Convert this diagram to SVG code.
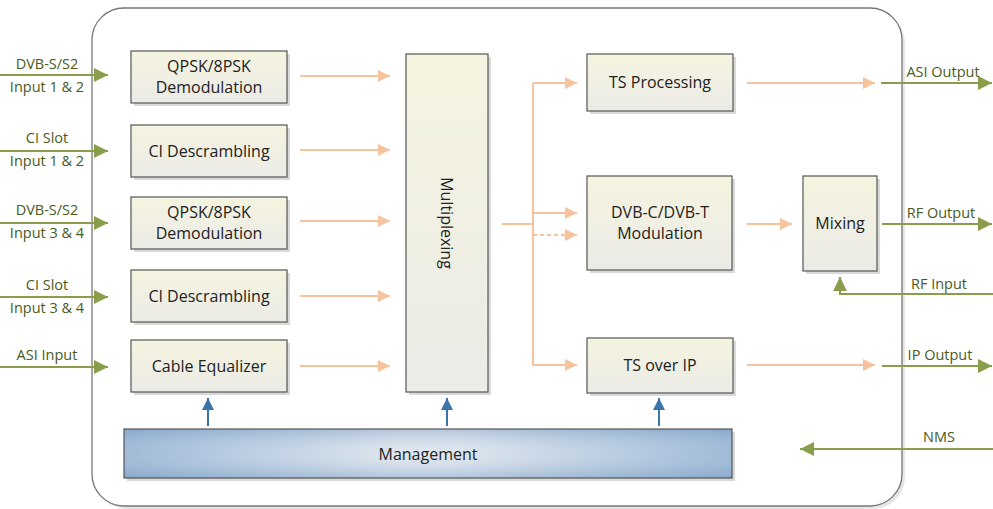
<svg xmlns="http://www.w3.org/2000/svg" width="993" height="509" viewBox="0 0 993 509">
<style>
.box{fill:url(#bg);stroke:#555;stroke-width:1.2}
.sh{fill:#d9d9d9}
.t{font-family:"Open Sans","DejaVu Sans",sans-serif;font-size:16px;fill:#222;text-anchor:middle}
.g{font-family:"Open Sans","DejaVu Sans",sans-serif;font-size:14.5px;fill:#4a5a22;text-anchor:middle}
.or{stroke:#f6c39e;stroke-width:2;fill:none}
.gr{stroke:#8a9d4a;stroke-width:2.2;fill:none}
.bl{stroke:#3b74a8;stroke-width:2;fill:none}
</style>
<defs>
<linearGradient id="bg" x1="0" y1="0" x2="0" y2="1"><stop offset="0" stop-color="#f5f4df"/><stop offset="1" stop-color="#ebebe7"/></linearGradient>
<linearGradient id="mg" x1="0" y1="0" x2="1" y2="0"><stop offset="0" stop-color="#8eaed0"/><stop offset="0.45" stop-color="#d9e2eb"/><stop offset="0.55" stop-color="#d9e2eb"/><stop offset="1" stop-color="#8eaed0"/></linearGradient>
<linearGradient id="mv" x1="0" y1="0" x2="0" y2="1"><stop offset="0" stop-color="#7fa1c6" stop-opacity="0.45"/><stop offset="0.5" stop-color="#ffffff" stop-opacity="0.15"/><stop offset="1" stop-color="#7fa1c6" stop-opacity="0.45"/></linearGradient>
<marker id="ao" viewBox="0 0 10 10" refX="10" refY="5" markerWidth="14" markerHeight="12" markerUnits="userSpaceOnUse" orient="auto"><path d="M0,0L10,5L0,10z" fill="#f6c39e"/></marker>
<marker id="ag" viewBox="0 0 10 10" refX="10" refY="5" markerWidth="16" markerHeight="14" markerUnits="userSpaceOnUse" orient="auto"><path d="M0,0L10,5L0,10z" fill="#8a9d4a"/></marker>
<marker id="ab" viewBox="0 0 10 10" refX="10" refY="5" markerWidth="14" markerHeight="12" markerUnits="userSpaceOnUse" orient="auto"><path d="M0,0L10,5L0,10z" fill="#3b74a8"/></marker>
</defs>
<rect width="993" height="509" fill="#fff"/>
<rect x="95" y="11" width="810" height="498" rx="32" fill="#e6e6e6"/>
<rect x="92" y="8" width="810" height="498" rx="32" fill="#fff" stroke="#777" stroke-width="1.3"/>

<g id="qpsk1"><rect class="sh" x="134" y="54" width="156" height="52"/><rect class="box" x="131" y="51" width="156" height="52"/><text class="t" x="209" y="72">QPSK/8PSK</text><text class="t" x="209" y="93">Demodulation</text></g>
<g id="ci1"><rect class="sh" x="134" y="128" width="156" height="52"/><rect class="box" x="131" y="125" width="156" height="52"/><text class="t" x="209" y="157">CI Descrambling</text></g>
<g id="qpsk2"><rect class="sh" x="134" y="200" width="156" height="52"/><rect class="box" x="131" y="197" width="156" height="52"/><text class="t" x="209" y="218">QPSK/8PSK</text><text class="t" x="209" y="239">Demodulation</text></g>
<g id="ci2"><rect class="sh" x="134" y="273" width="156" height="52"/><rect class="box" x="131" y="270" width="156" height="52"/><text class="t" x="209" y="302">CI Descrambling</text></g>
<g id="cable"><rect class="sh" x="134" y="343" width="156" height="52"/><rect class="box" x="131" y="340" width="156" height="52"/><text class="t" x="209" y="372">Cable Equalizer</text></g>
<g id="mux"><rect class="sh" x="409" y="57" width="82" height="338"/><rect class="box" x="406" y="54" width="82" height="338"/><text class="t" transform="translate(441,223) rotate(90)">Multiplexing</text></g>
<g id="tsproc"><rect class="sh" x="590" y="57" width="146" height="57"/><rect class="box" x="587" y="54" width="146" height="57"/><text class="t" x="660" y="88">TS Processing</text></g>
<g id="mod"><rect class="sh" x="590" y="179" width="145" height="94"/><rect class="box" x="587" y="176" width="145" height="94"/><text class="t" x="660" y="218">DVB-C/DVB-T</text><text class="t" x="660" y="239">Modulation</text></g>
<g id="tsip"><rect class="sh" x="590" y="341" width="146" height="55"/><rect class="box" x="587" y="338" width="146" height="55"/><text class="t" x="660" y="371">TS over IP</text></g>
<g id="mixing"><rect class="sh" x="806" y="179" width="74" height="95"/><rect class="box" x="803" y="176" width="74" height="95"/><text class="t" x="840" y="229">Mixing</text></g>
<g id="mgmt"><rect x="127" y="432" width="608" height="49" fill="#d9d9d9"/><rect x="124" y="429" width="608" height="49" fill="url(#mg)"/><rect x="124" y="429" width="608" height="49" fill="url(#mv)" stroke="#555" stroke-width="1.2"/><text class="t" x="428" y="460">Management</text></g>

<g id="connectors">
<path class="or" d="M300,76H390" marker-end="url(#ao)"/>
<path class="or" d="M300,150H390" marker-end="url(#ao)"/>
<path class="or" d="M300,221H390" marker-end="url(#ao)"/>
<path class="or" d="M300,296H390" marker-end="url(#ao)"/>
<path class="or" d="M300,366H390" marker-end="url(#ao)"/>
<path class="or" d="M502,224H533M533,83V366"/>
<path class="or" d="M533,83H577" marker-end="url(#ao)"/>
<path class="or" d="M533,213H577" marker-end="url(#ao)"/>
<path class="or" d="M533,235H577" stroke-dasharray="4,3" marker-end="url(#ao)"/>
<path class="or" d="M533,365H577" marker-end="url(#ao)"/>
<path class="or" d="M747,83H875" marker-end="url(#ao)"/>
<path class="or" d="M747,224H792" marker-end="url(#ao)"/>
<path class="or" d="M747,365H875" marker-end="url(#ao)"/>

<path class="gr" d="M0,75H108" marker-end="url(#ag)"/>
<path class="gr" d="M0,151H108" marker-end="url(#ag)"/>
<path class="gr" d="M0,223H108" marker-end="url(#ag)"/>
<path class="gr" d="M0,297H108" marker-end="url(#ag)"/>
<path class="gr" d="M0,367H108" marker-end="url(#ag)"/>
<path class="gr" d="M881,83H992" marker-end="url(#ag)"/>
<path class="gr" d="M882,224H992" marker-end="url(#ag)"/>
<path class="gr" d="M993,294H840V277" marker-end="url(#ag)"/>
<path class="gr" d="M882,366H992" marker-end="url(#ag)"/>
<path class="gr" d="M993,449H800" marker-end="url(#ag)"/>

<path class="bl" d="M208,426V398" marker-end="url(#ab)"/>
<path class="bl" d="M447,426V398" marker-end="url(#ab)"/>
<path class="bl" d="M659,426V398" marker-end="url(#ab)"/>
</g>

<g id="labels">
<text class="g" x="47" y="69">DVB-S/S2</text><text class="g" x="47" y="92">Input 1 &amp; 2</text>
<text class="g" x="47" y="143">CI Slot</text><text class="g" x="47" y="166">Input 1 &amp; 2</text>
<text class="g" x="47" y="215">DVB-S/S2</text><text class="g" x="47" y="238">Input 3 &amp; 4</text>
<text class="g" x="47" y="290">CI Slot</text><text class="g" x="47" y="313">Input 3 &amp; 4</text>
<text class="g" x="47" y="360">ASI Input</text>
<text class="g" x="943" y="77">ASI Output</text>
<text class="g" x="941" y="218">RF Output</text>
<text class="g" x="939" y="289">RF Input</text>
<text class="g" x="940" y="360">IP Output</text>
<text class="g" x="939" y="442">NMS</text>
</g>
</svg>
